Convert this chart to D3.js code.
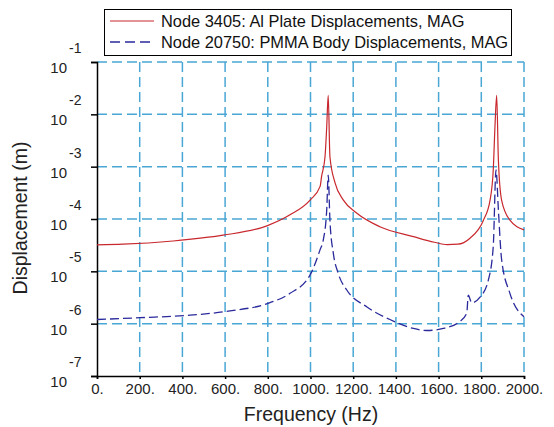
<!DOCTYPE html>
<html><head><meta charset="utf-8">
<script src="https://cdn.jsdelivr.net/npm/d3@7"></script>
<style>
html,body{margin:0;padding:0;background:#fff;}
svg{display:block;font-family:"Liberation Sans",Arial,sans-serif;}
</style></head>
<body>
<svg id="chart" width="554" height="427"></svg>
<script>
const xTicks = [0,200,400,600,800,1000,1200,1400,1600,1800,2000];
const xTickLabels = ["0.","200.","400.","600.","800.","1000.","1200.","1400.","1600.","1800.","2000."];
const yExponents = [-1,-2,-3,-4,-5,-6,-7];

const seriesNames = ["Node 3405: Al Plate Displacements, MAG","Node 20750: PMMA Body Displacements, MAG"];

const redFreq = [0,122,356,590,796,904,998,1045,1052,1068,1076,1083,1091,1115,1154,1216,1325,1482,1580,1640,1690,1747,1810,1841,1856,1864,1872,1880,1895,1934,2000];
const redVal  = [3.2e-5,3.3e-5,3.8e-5,4.9e-5,7.4e-5,1.2e-4,2.3e-4,4.2e-4,6.5e-4,1.55e-3,5.8e-3,2.3e-2,1.55e-3,4.9e-4,2.3e-4,1.3e-4,7.1e-5,4.6e-5,3.6e-5,3.25e-5,3.3e-5,4.3e-5,9.5e-5,2.3e-4,8.7e-4,5.8e-3,2.3e-2,1.35e-3,2.3e-4,9.5e-5,6.2e-5];

const blueFreq = [0,201,436,623,795,904,998,1045,1060,1076,1083,1091,1107,1130,1170,1263,1372,1482,1544,1622,1700,1732,1739,1755,1794,1833,1856,1869,1880,1895,1934,2000];
const blueVal  = [1.2e-6,1.3e-6,1.45e-6,1.75e-6,2.4e-6,3.8e-6,8.5e-6,2.6e-5,4.0e-5,1.5e-4,6.9e-4,9.5e-5,2.2e-5,9.1e-6,4.4e-6,2.1e-6,1.2e-6,8.1e-7,7.4e-7,8.1e-7,1.1e-6,1.6e-6,3.5e-6,2.5e-6,3.2e-6,6.8e-6,3.0e-5,8.7e-4,1.5e-4,1.7e-5,3.8e-6,1.35e-6];

const svg = d3.select("#chart");
const L = 97, R = 524, T = 62, B = 376;
const x = d3.scaleLinear().domain([0,2000]).range([L,R]);
const y = d3.scaleLog().domain([1e-7,1e-1]).range([B,T]);

const gridColor = "#4aa6d4";
// grid
const g = svg.append("g");
g.selectAll(".vg").data(xTicks.slice(1)).enter().append("line")
  .attr("x1",d=>x(d)).attr("x2",d=>x(d)).attr("y1",T).attr("y2",B)
  .attr("stroke",gridColor).attr("stroke-width",1.5).attr("stroke-dasharray","10,5");
g.selectAll(".hg").data(yExponents.slice(0,-1)).enter().append("line")
  .attr("x1",L).attr("x2",R).attr("y1",d=>y(Math.pow(10,d))).attr("y2",d=>y(Math.pow(10,d)))
  .attr("stroke",gridColor).attr("stroke-width",1.5).attr("stroke-dasharray","10,5");

// axes
const xAxis = svg.append("g").attr("transform",`translate(0,${B})`)
  .call(d3.axisBottom(x).tickValues(xTicks).tickFormat((d,i)=>xTickLabels[i]).tickSize(3).tickPadding(4));
const yAxis = svg.append("g").attr("transform",`translate(${L},0)`)
  .call(d3.axisLeft(y).tickValues(yExponents.map(e=>Math.pow(10,e))).tickFormat("").tickSize(6));
[xAxis,yAxis].forEach(a=>{
  a.select(".domain").attr("stroke","#000").attr("stroke-width",1.5);
  a.selectAll(".tick line").attr("stroke","#000").attr("stroke-width",1.5);
});
xAxis.selectAll(".tick text").attr("font-size",15).attr("fill","#222")
  .attr("font-family","'Liberation Sans',Arial,sans-serif");

// y tick labels: 10 with superscript exponent
const yl = svg.append("g");
yExponents.forEach(e=>{
  const yy = y(Math.pow(10,e));
  yl.append("text").attr("x",67).attr("y",yy+11).attr("text-anchor","end")
    .attr("font-size",15).attr("fill","#222").text("10");
  yl.append("text").attr("x",69).attr("y",yy-9).attr("text-anchor","start")
    .attr("font-size",14).attr("fill","#222").text(String(e));
});

// axis titles
svg.append("text").attr("x",311).attr("y",421).attr("text-anchor","middle")
  .attr("font-size",19.5).attr("fill","#222").text("Frequency (Hz)");
svg.append("text").attr("transform","translate(27,218) rotate(-90)").attr("text-anchor","middle")
  .attr("font-size",19.5).attr("fill","#222").text("Displacement (m)");

// lines
const line = d3.line().x(d=>x(d[0])).y(d=>y(d[1])).curve(d3.curveMonotoneX);
svg.append("path").datum(redFreq.map((f,i)=>[f,redVal[i]]))
  .attr("d",line).attr("fill","none").attr("stroke","#c8282d").attr("stroke-width",1.2);
svg.append("path").datum(blueFreq.map((f,i)=>[f,blueVal[i]]))
  .attr("d",line).attr("fill","none").attr("stroke","#2a2a9c").attr("stroke-width",1.3)
  .attr("stroke-dasharray","9,4");

// legend
const lg = svg.append("g");
lg.append("rect").attr("x",104.5).attr("y",9.5).attr("width",407).attr("height",46)
  .attr("fill","#fff").attr("stroke","#000").attr("stroke-width",1);
lg.append("line").attr("x1",110).attr("x2",154).attr("y1",21).attr("y2",21)
  .attr("stroke","#c8282d").attr("stroke-width",1.2);
lg.append("line").attr("x1",110).attr("x2",154).attr("y1",42).attr("y2",42)
  .attr("stroke","#2a2a9c").attr("stroke-width",1.3).attr("stroke-dasharray","10,5");
lg.append("text").attr("x",161).attr("y",27).attr("font-size",16.4).attr("fill","#111").text(seriesNames[0]);
lg.append("text").attr("x",161).attr("y",48).attr("font-size",16.4).attr("fill","#111").text(seriesNames[1]);
</script>
</body></html>
